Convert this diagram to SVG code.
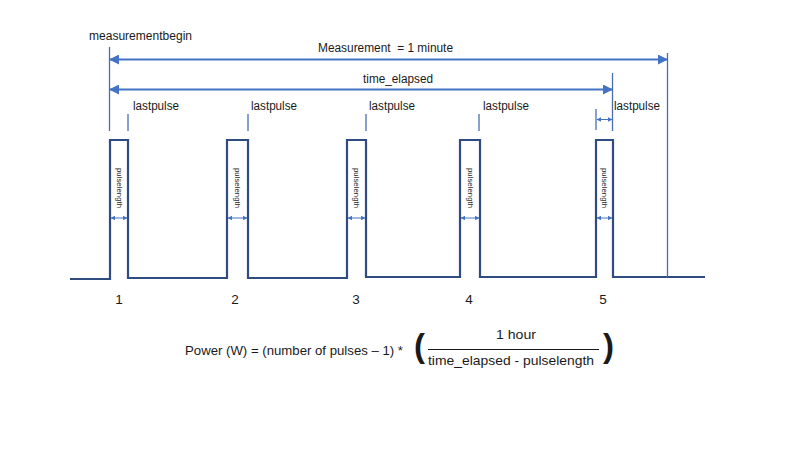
<svg xmlns="http://www.w3.org/2000/svg" width="800" height="450" viewBox="0 0 800 450">
<defs>
<style>
.t{font-family:"Liberation Sans",Arial,sans-serif;font-size:12.5px;fill:#1a1a1a}
.f{font-family:"Liberation Sans",Arial,sans-serif;font-size:13.5px;fill:#1a1a1a}
.s{font-family:"Liberation Sans",Arial,sans-serif;font-size:8px;fill:#1a1a1a}
.p{font-family:"Liberation Sans",Arial,sans-serif;font-size:34px;font-weight:bold;fill:#1a1a1a}
.wave{fill:none;stroke:#2F4B7F;stroke-width:2.2}
.dim{fill:none;stroke:#4472C4;stroke-width:2}
.vl{fill:none;stroke:#4A6DB0;stroke-width:1.3}
.sm{fill:none;stroke:#4472C4;stroke-width:1}
</style>
<marker id="ah" viewBox="0 0 10 10" refX="9" refY="5" markerWidth="5" markerHeight="5" orient="auto-start-reverse" markerUnits="strokeWidth">
<path d="M0,0 L10,5 L0,10 z" fill="#4472C4"/>
</marker>
<marker id="sh" viewBox="0 0 10 10" refX="9" refY="5" markerWidth="4.5" markerHeight="4.5" orient="auto-start-reverse" markerUnits="strokeWidth">
<path d="M0,0 L10,5 L0,10 z" fill="#4472C4"/>
</marker>
</defs>
<rect width="800" height="450" fill="#ffffff"/>

<g id="waveform">
<path class="wave" d="M70,279 H110 V140 H128 V278 H227 V140 H248 V278 H347 V140 H366 V277 H460 V140 H480 V277 H596 V140 H613 V277 H705"/>
</g>

<g id="connectors">
<line class="vl" x1="109.5" y1="47" x2="109.5" y2="131"/>
<line class="vl" x1="667.5" y1="53" x2="667.5" y2="277"/>
<line class="vl" x1="612.5" y1="73" x2="612.5" y2="131"/>
<line class="vl" x1="128" y1="114" x2="128" y2="131"/>
<line class="vl" x1="248" y1="114" x2="248" y2="131"/>
<line class="vl" x1="366" y1="114" x2="366" y2="131"/>
<line class="vl" x1="479" y1="114" x2="479" y2="131"/>
<line class="vl" x1="596" y1="109" x2="596" y2="130"/>
<line class="dim" x1="110" y1="59.5" x2="667" y2="59.5" marker-start="url(#ah)" marker-end="url(#ah)"/>
<line class="dim" x1="110" y1="89.5" x2="612" y2="89.5" marker-start="url(#ah)" marker-end="url(#ah)"/>
<line class="sm" x1="597" y1="119.5" x2="612" y2="119.5" marker-start="url(#sh)" marker-end="url(#sh)"/>
<line class="sm" x1="111" y1="218" x2="127" y2="218" marker-start="url(#sh)" marker-end="url(#sh)"/>
<line class="sm" x1="228" y1="218" x2="247" y2="218" marker-start="url(#sh)" marker-end="url(#sh)"/>
<line class="sm" x1="348" y1="218" x2="365" y2="218" marker-start="url(#sh)" marker-end="url(#sh)"/>
<line class="sm" x1="461" y1="218" x2="479" y2="218" marker-start="url(#sh)" marker-end="url(#sh)"/>
<line class="sm" x1="597" y1="218" x2="612" y2="218" marker-start="url(#sh)" marker-end="url(#sh)"/>
</g>

<g id="labels">
<text class="t" x="89" y="40" textLength="103" lengthAdjust="spacingAndGlyphs">measurementbegin</text>
<text class="t" x="318" y="52" textLength="135" lengthAdjust="spacingAndGlyphs" xml:space="preserve">Measurement  = 1 minute</text>
<text class="t" x="363" y="83" textLength="70" lengthAdjust="spacingAndGlyphs">time_elapsed</text>
<text class="t" x="133" y="110" textLength="46" lengthAdjust="spacingAndGlyphs">lastpulse</text>
<text class="t" x="251" y="110" textLength="46" lengthAdjust="spacingAndGlyphs">lastpulse</text>
<text class="t" x="369" y="110" textLength="46" lengthAdjust="spacingAndGlyphs">lastpulse</text>
<text class="t" x="483" y="110" textLength="46" lengthAdjust="spacingAndGlyphs">lastpulse</text>
<text class="t" x="614" y="110" textLength="46" lengthAdjust="spacingAndGlyphs">lastpulse</text>
</g>

<g id="pulselength-labels">
<text class="s" text-anchor="middle" transform="translate(116.5,188) rotate(90)" textLength="40" lengthAdjust="spacingAndGlyphs">pulselength</text>
<text class="s" text-anchor="middle" transform="translate(235,188) rotate(90)" textLength="40" lengthAdjust="spacingAndGlyphs">pulselength</text>
<text class="s" text-anchor="middle" transform="translate(354,188) rotate(90)" textLength="40" lengthAdjust="spacingAndGlyphs">pulselength</text>
<text class="s" text-anchor="middle" transform="translate(467.5,188) rotate(90)" textLength="40" lengthAdjust="spacingAndGlyphs">pulselength</text>
<text class="s" text-anchor="middle" transform="translate(602,188) rotate(90)" textLength="40" lengthAdjust="spacingAndGlyphs">pulselength</text>
</g>

<g id="pulse-numbers">
<text class="f" x="119" y="304" text-anchor="middle">1</text>
<text class="f" x="235" y="304" text-anchor="middle">2</text>
<text class="f" x="356" y="304" text-anchor="middle">3</text>
<text class="f" x="469" y="304" text-anchor="middle">4</text>
<text class="f" x="603" y="304" text-anchor="middle">5</text>
</g>

<g id="formula">
<text class="f" x="185" y="355" textLength="218" lengthAdjust="spacingAndGlyphs">Power (W) = (number of pulses – 1) *</text>
<text class="p" x="414" y="357" textLength="11" lengthAdjust="spacingAndGlyphs">(</text>
<text class="f" x="496" y="339" textLength="40" lengthAdjust="spacingAndGlyphs">1 hour</text>
<line x1="428" y1="349.5" x2="599" y2="349.5" stroke="#1a1a1a" stroke-width="1"/>
<text class="f" x="428" y="365" textLength="166" lengthAdjust="spacingAndGlyphs">time_elapsed - pulselength</text>
<text class="p" x="603" y="357" textLength="11" lengthAdjust="spacingAndGlyphs">)</text>
</g>
</svg>
